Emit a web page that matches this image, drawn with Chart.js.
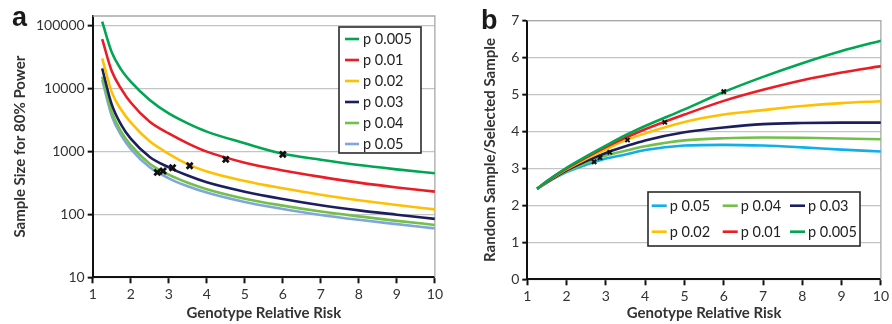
<!DOCTYPE html>
<html><head><meta charset="utf-8">
<script src="https://cdn.jsdelivr.net/npm/chart.js@4/dist/chart.umd.min.js"></script>
<style>
html,body{margin:0;padding:0;background:#fff;}
#wrap{position:relative;width:892px;height:324px;overflow:hidden;background:#fff;}
.pane{position:absolute;top:0;width:446px;height:324px;}
#pa{left:0;}
#pb{left:446px;}
.letter{position:absolute;font-family:"Liberation Sans",Arial,sans-serif;font-weight:bold;font-size:27px;line-height:31px;color:#1a1a1a;}
</style></head><body>
<div id="wrap">
<div class="pane" id="pa"><canvas id="ca" width="446" height="324"></canvas></div>
<div class="pane" id="pb"><canvas id="cb" width="446" height="324"></canvas></div>
<div class="letter" style="left:12px;top:2px">a</div>
<div class="letter" style="left:481px;top:5px">b</div>
</div>
<script>
// ---------- data ----------
const seriesLabels = ['p 0.005','p 0.01','p 0.02','p 0.03','p 0.04','p 0.05'];

// Panel a: sample size for 80% power vs genotype relative risk
const grrA = [1.25,1.5,1.75,2,2.5,3,3.5,4,5,6,7,8,9,10];
const sizeP005 = [116000,38000,20000,12900,6600,4030,2800,2070,1350,920,740,610,520,450];
const sizeP01  = [61400,19000,9900,6000,2980,1940,1350,995,665,500,395,320,268,230];
const sizeP02  = [30300,8800,4600,2900,1450,920,630,480,340,260,205,168,141,120];
const sizeP03  = [21000,5600,2650,1600,820,560,415,325,230,176,140,116,99,85];
const sizeP04  = [15500,4250,2070,1260,640,428,318,252,178,138,111,93,79,68];
const sizeP05  = [13700,3700,1800,1100,560,375,280,222,157,122,98,82,70,60];

// Panel b: random sample / selected sample ratio
const grrB = [1.25,1.5,2,2.5,3,3.5,4,5,6,7,8,9,10];
const ratioP005 = [2.45,2.66,3.02,3.33,3.62,3.90,4.15,4.60,5.07,5.48,5.85,6.18,6.46];
const ratioP01  = [2.45,2.65,3.00,3.30,3.58,3.83,4.06,4.46,4.83,5.13,5.39,5.60,5.77];
const ratioP02  = [2.45,2.64,2.98,3.26,3.52,3.76,3.95,4.26,4.46,4.58,4.69,4.77,4.82];
const ratioP03  = [2.45,2.63,2.95,3.20,3.42,3.60,3.76,3.98,4.11,4.20,4.23,4.24,4.24];
const ratioP04  = [2.45,2.63,2.92,3.15,3.35,3.48,3.60,3.76,3.82,3.84,3.83,3.81,3.79];
const ratioP05  = [2.45,2.62,2.90,3.10,3.27,3.38,3.50,3.62,3.64,3.62,3.57,3.51,3.46];

// marked points (crosses)
const markX      = [2.7,2.85,3.1,3.55,4.5,6];
const markSizeA  = [466,489,552,594,750,900];
const markRatioB = [3.18,3.29,3.44,3.77,4.25,5.08];

const xTicks = [1,2,3,4,5,6,7,8,9,10];
const yTicksA = [10,100,1000,10000,100000];
const yTicksB = [0,1,2,3,4,5,6,7];

// ---------- styles ----------
const colA = {'p 0.005':'#00a651','p 0.01':'#ed1c24','p 0.02':'#ffc000','p 0.03':'#1c1f5e','p 0.04':'#72c04a','p 0.05':'#80a6dd'};
const colB = {'p 0.005':'#00a651','p 0.01':'#ed1c24','p 0.02':'#ffc000','p 0.03':'#1c1f5e','p 0.04':'#72c04a','p 0.05':'#12aeea'};
const FONT = 'Lato, "Open Sans", sans-serif';

function lineDS(label, xs, ys, col){
  return {type:'line', label, data: xs.map((x,i)=>({x, y: ys[i]})), borderColor: col[label], backgroundColor: col[label],
    borderWidth: 2.6, pointRadius: 0, pointHoverRadius: 0, cubicInterpolationMode: 'monotone', fill: false};
}
function markDS(ys, r, w){
  return {type:'scatter', label:'marks', data: markX.map((x,i)=>({x, y: ys[i]})), pointStyle:'crossRot',
    pointRadius: r, borderWidth: w, borderColor:'#111', backgroundColor:'#111'};
}

const framePlugin = {
  id:'frame',
  beforeDatasetsDraw(chart){
    const {ctx, chartArea:a} = chart;
    ctx.save();
    ctx.strokeStyle = '#a8a8a8'; ctx.lineWidth = 1.3;
    ctx.beginPath();
    ctx.moveTo(a.left, a.top); ctx.lineTo(a.right, a.top); ctx.lineTo(a.right, a.bottom);
    ctx.stroke();
    ctx.restore();
  }
};
const boxLegend = {
  id:'boxLegend',
  afterDatasetsDraw(chart, args, o){
    if(!o || !o.items) return;
    const ctx = chart.ctx;
    ctx.save();
    ctx.fillStyle = '#fff'; ctx.fillRect(o.x, o.y, o.w, o.h);
    ctx.strokeStyle = '#2a2a2a'; ctx.lineWidth = 1.6; ctx.strokeRect(o.x, o.y, o.w, o.h);
    ctx.font = o.font; ctx.textBaseline = 'middle'; ctx.textAlign = 'left';
    o.items.forEach((lab, i) => {
      const ds = chart.data.datasets.find(d => d.label === lab);
      const c = i % o.cols, r = Math.floor(i / o.cols);
      const lx = o.x + o.padX + o.colOff[c], ly = o.y + o.padY + r * o.rowH;
      ctx.strokeStyle = ds.borderColor; ctx.lineWidth = 2.6;
      ctx.beginPath(); ctx.moveTo(lx, ly); ctx.lineTo(lx + o.sw, ly); ctx.stroke();
      ctx.fillStyle = '#222';
      ctx.fillText(lab, lx + o.sw + o.gap, ly + 0.5);
    });
    ctx.restore();
  }
};

const tickFont = {family: FONT, size: 14};
const titleFont = {family: FONT, size: 15, weight: 'bold'};

function xScale(h){
  return {type:'linear', min:1, max:10,
    afterBuildTicks(a){ a.ticks = xTicks.map(v => ({value:v})); },
    ticks:{font: tickFont, color:'#333', padding:3, maxRotation:0, autoSkip:false},
    grid:{drawOnChartArea:false, tickColor:'#111', tickLength:6, tickWidth:2},
    border:{color:'#111', width:2},
    title:{display:true, text:'Genotype Relative Risk', font: titleFont, color:'#333', padding:{top:0, bottom:2}},
    afterFit(a){ a.height = h; }};
}

// ---------- chart a ----------
new Chart(document.getElementById('ca'), {
  data:{datasets:[
    markDS(markSizeA, 4.2, 2.8),
    lineDS('p 0.005', grrA, sizeP005, colA),
    lineDS('p 0.01',  grrA, sizeP01,  colA),
    lineDS('p 0.02',  grrA, sizeP02,  colA),
    lineDS('p 0.03',  grrA, sizeP03,  colA),
    lineDS('p 0.04',  grrA, sizeP04,  colA),
    lineDS('p 0.05',  grrA, sizeP05,  colA)
  ]},
  options:{
    responsive:false, animation:false, events:[],
    layout:{autoPadding:false, padding:{left:8, top:16, right:4, bottom:0}},
    plugins:{legend:{display:false}, tooltip:{enabled:false},
      boxLegend:{items: seriesLabels, cols:1, x:339, y:27, w:82, h:126, padX:6, padY:12, rowH:21, colOff:[0], sw:14, gap:4, font:'14.5px ' + FONT}},
    scales:{
      x: xScale(46.7),
      y: {type:'logarithmic', min:10, max:142600,
        afterBuildTicks(a){ a.ticks = yTicksA.map(v => ({value:v})); },
        ticks:{font: tickFont, color:'#333', padding:3, callback: v => String(v)},
        grid:{color:'#c4c4c4', lineWidth:1.3, tickColor:'#111', tickLength:5, tickWidth:2},
        border:{color:'#111', width:2},
        title:{display:true, text:'Sample Size for 80% Power', font: titleFont, color:'#333', padding:{top:3.5, bottom:0}},
        afterFit(a){ a.width = 84.7; }}
    }
  },
  plugins:[framePlugin, boxLegend]
});

// ---------- chart b ----------
new Chart(document.getElementById('cb'), {
  data:{datasets:[
    markDS(markRatioB, 3, 2),
    lineDS('p 0.005', grrB, ratioP005, colB),
    lineDS('p 0.01',  grrB, ratioP01,  colB),
    lineDS('p 0.02',  grrB, ratioP02,  colB),
    lineDS('p 0.03',  grrB, ratioP03,  colB),
    lineDS('p 0.04',  grrB, ratioP04,  colB),
    lineDS('p 0.05',  grrB, ratioP05,  colB)
  ]},
  options:{
    responsive:false, animation:false, events:[],
    layout:{autoPadding:false, padding:{left:31.3, top:20.7, right:7.7, bottom:0}},
    plugins:{legend:{display:false}, tooltip:{enabled:false},
      boxLegend:{items:['p 0.05','p 0.04','p 0.03','p 0.02','p 0.01','p 0.005'], cols:3, x:202, y:192, w:212, h:54, padX:3.7, padY:13.7, rowH:26, colOff:[0,71,138.3], sw:15, gap:3, font:'14.5px ' + FONT}},
    scales:{
      x: xScale(44.7),
      y: {type:'linear', min:0, max:7,
        afterBuildTicks(a){ a.ticks = yTicksB.map(v => ({value:v})); },
        ticks:{font: tickFont, color:'#333', padding:3},
        grid:{color:'#c4c4c4', lineWidth:1.3, tickColor:'#111', tickLength:5, tickWidth:2},
        border:{color:'#111', width:2},
        title:{display:true, text:'Random Sample/Selected Sample', font: titleFont, color:'#333', padding:{top:3.5, bottom:0}},
        afterFit(a){ a.width = 50; }}
    }
  },
  plugins:[framePlugin, boxLegend]
});
</script>
</body></html>
